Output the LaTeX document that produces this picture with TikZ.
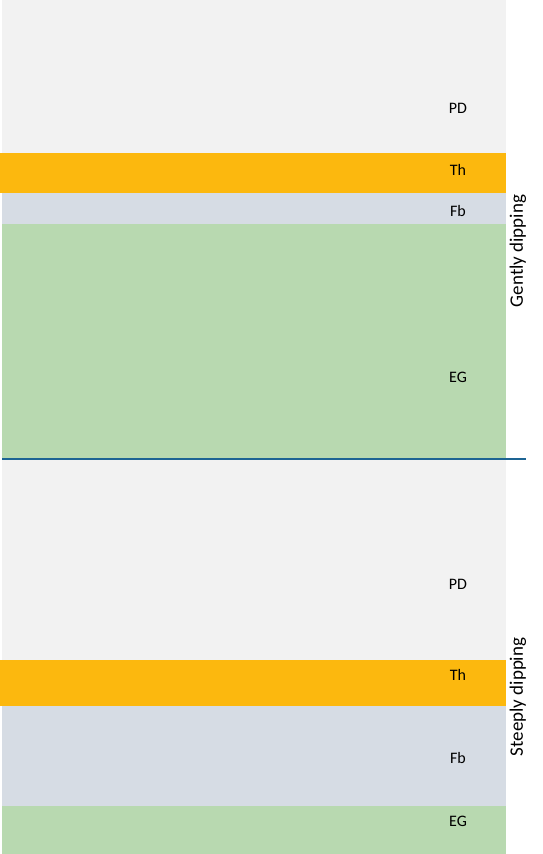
\documentclass[tikz,border=0pt]{standalone}
\usepackage{fontspec}
\setmainfont{Carlito}
\usepackage{tikz}
\definecolor{pdgray}{HTML}{F2F2F2}
\definecolor{thorange}{HTML}{FCB80E}
\definecolor{fbblue}{HTML}{D6DCE4}
\definecolor{eggreen}{HTML}{B8D9B0}
\definecolor{splitblue}{HTML}{1D6493}

\begin{document}
\begin{tikzpicture}[x=1pt, y=-1pt,
	unit/.style={font=\fontsize{16}{19}\selectfont, inner sep=0pt},
	dip/.style={rotate=90, font=\fontsize{19}{23}\selectfont, inner sep=0pt}]
	\useasboundingbox[fill=white] (0,0) rectangle (542,854);
	\begin{scope}
	\fill[pdgray] (2,0) rectangle (506,153);
	\fill[thorange] (0,153) rectangle (506,193);
	\fill[fbblue] (2,193) rectangle (506,224);
	\fill[eggreen] (2,224) rectangle (506,458);
	\node[unit] (pd-1) at (458,108) {PD};
	\node[unit] (th-1) at (458,170) {Th};
	\node[unit] (fb-1) at (458,211) {Fb};
	\node[unit] (eg-1) at (458,377) {EG};
	\node[dip] (gently) at (518,251) {Gently dipping};
	\end{scope}
	\coordinate (split-w) at (2,459);
	\coordinate (split-e) at (526,459);
	\draw[splitblue, line width=2pt] (split-w) -- (split-e);
	\begin{scope}
	\fill[pdgray] (2,460) rectangle (506,660);
	\fill[thorange] (0,660) rectangle (506,706);
	\fill[fbblue] (2,706) rectangle (506,806);
	\fill[eggreen] (2,806) rectangle (506,854);
	\node[unit] (pd-2) at (458,584) {PD};
	\node[unit] (th-2) at (458,675) {Th};
	\node[unit] (fb-2) at (458,758) {Fb};
	\node[unit] (eg-2) at (458,821) {EG};
	\node[dip] (steeply) at (518,697) {Steeply dipping};
	\end{scope}
\end{tikzpicture}
\end{document}
